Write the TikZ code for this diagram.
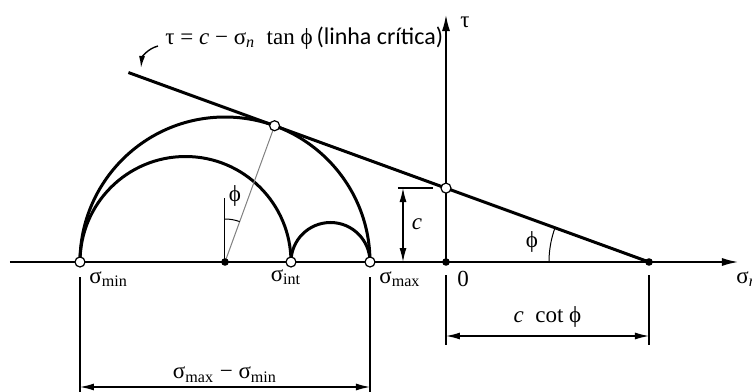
\documentclass[tikz,border=0pt]{standalone}
\usepackage{fontspec}
\setmainfont{Liberation Serif}
\newfontfamily\calibri{Carlito}
\usetikzlibrary{arrows.meta, calc}

\tikzset{
  curve/.style={line width=1.5pt},
  axis/.style={line width=0.7pt, -{Latex[length=8pt,width=4pt]}},
  dimline/.style={line width=0.6pt, {Latex[length=7pt,width=3.5pt]}-{Latex[length=7pt,width=3.5pt]}},
  extline/.style={line width=0.6pt},
  opendot/.style={circle, draw, fill=white, inner sep=0pt, minimum size=5pt, line width=0.6pt},
  fulldot/.style={circle, fill, inner sep=0pt, minimum size=3.8pt},
  lbl/.style={font=\fontsize{11.5}{13}\selectfont, inner sep=1pt},
}

\begin{document}
\begin{tikzpicture}[x=0.5pt, y=0.5pt]
  \useasboundingbox (-446,-130) rectangle (306,262);

  % points on the axis
  \coordinate (O) at (0,0);
  \coordinate (Smin) at (-366,0);
  \coordinate (Sint) at (-155,0);
  \coordinate (Smax) at (-76,0);
  \coordinate (Cb) at (-221,0);
  \coordinate (P) at (203,0);
  \coordinate (T) at ($(Cb)+(70:145)$);
  \coordinate (Cc) at ($(P)+(160:216)$);
  \coordinate (Lstart) at ($(P)+(160:554)$);

  % axes
  \coordinate (xl) at (-436,0);
  \coordinate (xr) at (292,0);
  \coordinate (yt) at (0,247);
  \draw[axis] (xl) -- (xr);
  \draw[axis] (O) -- (yt);

  % Mohr circles
  \draw[curve] (Smax) arc[start angle=0, end angle=180, radius=145];
  \draw[curve] (Sint) arc[start angle=0, end angle=180, radius=105.5];
  \draw[curve] (Smax) arc[start angle=0, end angle=180, radius=39.5];

  % critical line
  \draw[curve] (Lstart) -- (P);
  \draw[gray, line width=0.5pt] (Cb) -- (T);

  % angle at the centre
  \draw[line width=0.5pt] (Cb) -- ++(0,64);
  \draw[line width=0.5pt] ($(Cb)+(90:43)$) arc[start angle=90, end angle=70, radius=43];
  \node[lbl] (lphiA) at (-211,66) {ϕ};

  % angle at the line
  \draw[line width=0.5pt] ($(P)+(180:100)$) arc[start angle=180, end angle=160, radius=100];
  \node[lbl] (lphiB) at (86,20) {ϕ};

  % cohesion
  \coordinate (ctl) at (-48,74);
  \coordinate (ctr) at (-13,74);
  \coordinate (ctop) at (-43,74);
  \coordinate (cbot) at (-43,0);
  \draw[extline] (ctl) -- (ctr);
  \draw[dimline] (ctop) -- (cbot);
  \node[lbl] (lc) at (-29,38) {\textit{c}};

  % dimension sigma_max - sigma_min
  \coordinate (e1t) at (-366,-15);
  \coordinate (e1b) at (-366,-132);
  \coordinate (e2t) at (-76,-15);
  \coordinate (e2b) at (-76,-132);
  \draw[extline] (e1t) -- (e1b);
  \draw[extline] (e2t) -- (e2b);
  \coordinate (d1) at (-366,-125);
  \coordinate (d2) at (-76,-125);
  \draw[dimline] (d1) -- node[lbl, above=1pt] (ldiff) {σ\textsubscript{max} − σ\textsubscript{min}} (d2);

  % dimension c cot phi
  \coordinate (e3t) at (0,-13);
  \coordinate (e3b) at (0,-83);
  \coordinate (e4t) at (203,-13);
  \coordinate (e4b) at (203,-83);
  \draw[extline] (e3t) -- (e3b);
  \draw[extline] (e4t) -- (e4b);
  \coordinate (d3) at (0,-74);
  \coordinate (d4) at (203,-74);
  \draw[dimline] (d3) -- node[lbl, above=3pt] (lcot) {\textit{c}\ \ cot ϕ} (d4);

  % dots
  \node[opendot] (nmin) at (Smin) {};
  \node[opendot] (nint) at (Sint) {};
  \node[opendot] (nmax) at (Smax) {};
  \node[opendot] (nT) at (T) {};
  \node[opendot] (nc) at (Cc) {};
  \node[fulldot] (ncb) at (Cb) {};
  \node[fulldot] (nO) at (O) {};
  \node[fulldot] (nP) at (P) {};

  % axis labels
  \node[lbl, anchor=north west] (lmin) at (-359,-7) {σ\textsubscript{min}};
  \node[lbl, anchor=north] (lint) at (-160,-5) {σ\textsubscript{int}};
  \node[lbl, anchor=north west] (lmax) at (-69,-7) {σ\textsubscript{max}};
  \node[lbl, anchor=north west] (lzero) at (9,-7) {0};
  \node[lbl, anchor=north west] (lsig) at (288,-7) {σ\textsubscript{\textit{n}}};
  \node[lbl, anchor=west] (ltau) at (12,240) {τ};

  % critical line label
  \node[lbl, anchor=west] (leq) at (-283,224) {τ = \textit{c} − σ\textsubscript{\textit{n}}\ \ tan ϕ\,{\calibri\fontsize{12}{14}\selectfont(linha crítica)}};
  \coordinate (callfrom) at (-288,216);
  \coordinate (callto) at (-305,194);
  \draw[line width=0.7pt, -{Latex[length=6pt,width=3pt]}] (callfrom) to[out=195, in=85] (callto);
\end{tikzpicture}
\end{document}
